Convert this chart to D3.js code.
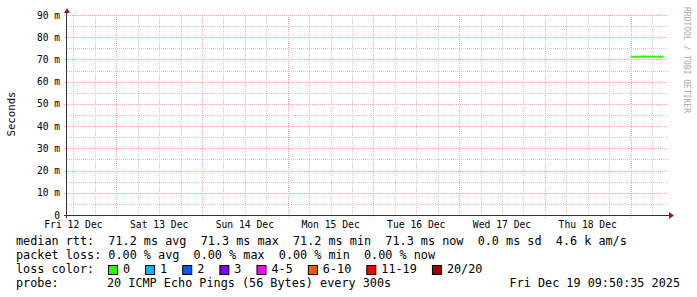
<!DOCTYPE html>
<html>
<head>
<meta charset="utf-8">
<script src="https://d3js.org/d3.v7.min.js"></script>
<style>
  body { margin: 0; background: #fff; }
  text { font-family: "DejaVu Sans Mono", monospace; }
</style>
</head>
<body>
<div id="chart"></div>
<script>
// median rtt samples (UTC), seconds
var rttTimes = ["2025-12-19T00:00:00Z", "2025-12-19T01:00:00Z", "2025-12-19T02:00:00Z",
                "2025-12-19T03:00:00Z", "2025-12-19T04:00:00Z", "2025-12-19T05:00:00Z",
                "2025-12-19T06:00:00Z", "2025-12-19T07:00:00Z", "2025-12-19T08:00:00Z",
                "2025-12-19T09:00:00Z", "2025-12-19T09:10:00Z"];
var rttValues = [0.0712, 0.0712, 0.0712, 0.0713, 0.0712, 0.0712, 0.0712, 0.0712, 0.0712, 0.0713, 0.0713];

var dayLabels = ["Fri 12 Dec", "Sat 13 Dec", "Sun 14 Dec", "Mon 15 Dec", "Tue 16 Dec", "Wed 17 Dec", "Thu 18 Dec"];
var yTicks = [0, 0.01, 0.02, 0.03, 0.04, 0.05, 0.06, 0.07, 0.08, 0.09];

var legendLines = [
  "median rtt:  71.2 ms avg  71.3 ms max  71.2 ms min  71.3 ms now  0.0 ms sd  4.6 k am/s",
  "packet loss: 0.00 % avg  0.00 % max  0.00 % min  0.00 % now"
];
var lossLabels = ["0", "1", "2", "3", "4-5", "6-10", "11-19", "20/20"];
var lossColors = ["#26ff00", "#00b8ff", "#0059ff", "#7e00ff", "#ff00ff", "#ff5500", "#ff0000", "#a10000"];
var probeText = "20 ICMP Echo Pings (56 Bytes) every 300s";
var stampText = "Fri Dec 19 09:50:35 2025";

var W = 697, H = 297;
var pL = 67, pR = 667, pT = 15, pB = 215;

var svg = d3.select("#chart").append("svg")
  .attr("width", W).attr("height", H);

var tStart = new Date("2025-12-12T10:12:00Z");
var tEnd = new Date(tStart.getTime() + 7 * 86400 * 1000);

var x = d3.scaleUtc().domain([tStart, tEnd]).range([pL, pR]);
var y = d3.scaleLinear().domain([0, 0.09]).range([pB, pT]);

var grid = svg.append("g").attr("shape-rendering", "crispEdges");

// minor horizontal grid every 5 ms
d3.range(0.005, 0.09, 0.01).forEach(function(v) {
  grid.append("line")
    .attr("x1", pL).attr("x2", pR + 1)
    .attr("y1", Math.round(y(v)) + 0.5).attr("y2", Math.round(y(v)) + 0.5)
    .attr("stroke", "#cccccc").attr("stroke-dasharray", "1,1");
});
// minor vertical grid every 6 h
d3.utcHour.every(6).range(tStart, tEnd).forEach(function(t) {
  if (t.getUTCHours() === 0) return;
  grid.append("line")
    .attr("x1", Math.round(x(t)) + 0.5).attr("x2", Math.round(x(t)) + 0.5)
    .attr("y1", pT).attr("y2", pB)
    .attr("stroke", "#cccccc").attr("stroke-dasharray", "1,1");
});
// major horizontal grid every 10 ms
yTicks.slice(1).forEach(function(v) {
  grid.append("line")
    .attr("x1", pL - 3).attr("x2", pR + 1)
    .attr("y1", Math.round(y(v)) + 0.5).attr("y2", Math.round(y(v)) + 0.5)
    .attr("stroke", "#efaaaa").attr("stroke-dasharray", "1,1");
});
// major vertical grid at midnight
d3.utcDay.range(tStart, tEnd).forEach(function(t) {
  grid.append("line")
    .attr("x1", Math.round(x(t)) + 0.5).attr("x2", Math.round(x(t)) + 0.5)
    .attr("y1", pT).attr("y2", pB + 3)
    .attr("stroke", "#efaaaa").attr("stroke-dasharray", "1,1");
});

// y labels
svg.append("g").selectAll("text")
  .data(yTicks)
  .enter().append("text")
  .attr("x", 60).attr("y", function(d) { return y(d) + 3.5; })
  .attr("text-anchor", "end")
  .style("font-size", "9.6px")
  .text(function(d) { return d === 0 ? "0" : Math.round(d * 1000) + " m"; });

// x labels at noon
svg.append("g").selectAll("text")
  .data(dayLabels)
  .enter().append("text")
  .attr("x", function(d, i) { return x(d3.utcHour.offset(d3.utcDay.floor(tStart), 12 + 24 * i)); })
  .attr("y", 228)
  .attr("text-anchor", "middle")
  .style("font-size", "9.7px")
  .text(function(d) { return d; });

// median rtt line
var line = d3.line()
  .x(function(d) { return x(d.t); })
  .y(function(d) { return y(d.v); })
  .curve(d3.curveStepAfter);
var rtt = rttTimes.map(function(t, i) { return { t: new Date(t), v: rttValues[i] }; });
svg.append("path")
  .datum(rtt)
  .attr("d", line)
  .attr("fill", "none")
  .attr("stroke", lossColors[0])
  .attr("stroke-width", 2);

// axes
svg.append("line").attr("x1", pL - 0.5).attr("x2", pL - 0.5)
  .attr("y1", pB + 3).attr("y2", 10).attr("stroke", "#333");
svg.append("line").attr("x1", pL - 3).attr("x2", pR + 2)
  .attr("y1", pB + 0.5).attr("y2", pB + 0.5).attr("stroke", "#333");
svg.append("path").attr("d", "M64,13 L67,8 L70,13 Z").attr("fill", "#a01818");
svg.append("path").attr("d", "M669,212 L674,215.5 L669,219 Z").attr("fill", "#a01818");

// axis title
svg.append("text")
  .attr("transform", "translate(15,114) rotate(-90)")
  .attr("text-anchor", "middle")
  .style("font-size", "10.7px")
  .text("Seconds");

// watermark
svg.append("text")
  .attr("transform", "translate(684,60) rotate(90)")
  .attr("text-anchor", "middle")
  .attr("fill", "#aaa")
  .style("font-size", "8px")
  .text("RRDTOOL / TOBI OETIKER");

// legend
var charW = 7.12;
var fs = "11.8px";
legendLines.forEach(function(s, i) {
  svg.append("text").attr("x", 16).attr("y", 245 + 14 * i)
    .style("font-size", fs).style("white-space", "pre").text(s);
});
svg.append("text").attr("x", 16).attr("y", 273).style("font-size", fs).text("loss color:");
var lx = 108;
lossLabels.forEach(function(l, i) {
  svg.append("rect").attr("x", lx + 0.5).attr("y", 265.5).attr("width", 9).attr("height", 9)
    .attr("fill", lossColors[i]).attr("stroke", "#000");
  svg.append("text").attr("x", lx + 15).attr("y", 273).style("font-size", fs).text(l);
  lx += 30 + l.length * charW;
});
svg.append("text").attr("x", 16).attr("y", 287).style("font-size", fs).text("probe:");
svg.append("text").attr("x", 107).attr("y", 287).style("font-size", fs).text(probeText);
svg.append("text").attr("x", 680).attr("y", 287).attr("text-anchor", "end")
  .style("font-size", fs).text(stampText);
</script>
</body>
</html>
